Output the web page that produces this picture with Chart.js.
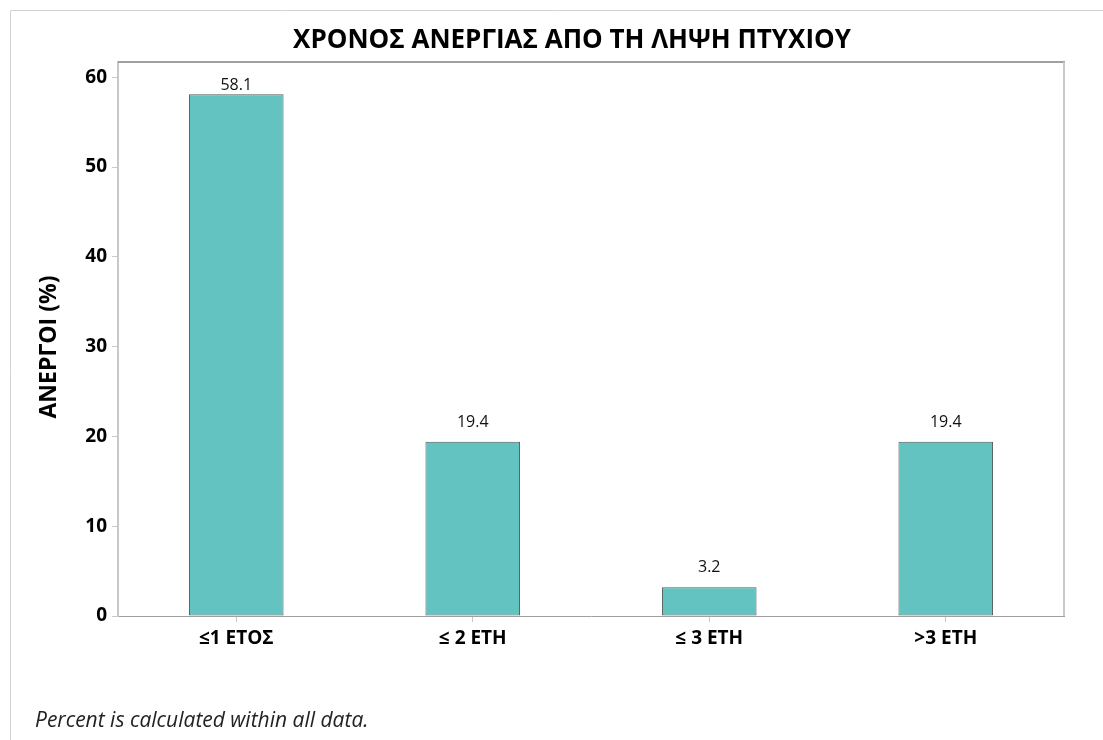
<!DOCTYPE html>
<html>
<head>
<meta charset="utf-8">
<script src="https://cdn.jsdelivr.net/npm/chart.js@4"></script>
<style>
  html, body { margin: 0; padding: 0; background: #fff; }
  #wrap { width: 1103px; height: 740px; position: relative; }
</style>
</head>
<body>
<div id="wrap"><canvas id="chart"></canvas></div>
<script>
const categories = ['≤1 ΕΤΟΣ', '≤ 2 ΕΤΗ', '≤ 3 ΕΤΗ', '>3 ΕΤΗ']
const percents = [58.1, 19.4, 3.2, 19.4]
const yTicks = [0, 10, 20, 30, 40, 50, 60]

const titleText = 'ΧΡΟΝΟΣ ΑΝΕΡΓΙΑΣ ΑΠΟ ΤΗ ΛΗΨΗ ΠΤΥΧΙΟΥ'
const axisTitle = 'ΑΝΕΡΓΟΙ (%)'
const footnote = 'Percent is calculated within all data.'

const FONT = "'Open Sans', 'Noto Sans', sans-serif"

// frame, titles, value labels, footnote
const decorations = {
  id: 'decorations',
  beforeDraw (chart) {
    const { ctx } = chart
    ctx.save()
    // outer graph border
    ctx.strokeStyle = '#d2d2d2'
    ctx.lineWidth = 1
    ctx.beginPath()
    ctx.moveTo(10.5, 740)
    ctx.lineTo(10.5, 10.5)
    ctx.lineTo(1103, 10.5)
    ctx.stroke()
    ctx.restore()
  },
  afterDraw (chart) {
    const { ctx, chartArea: a } = chart
    ctx.save()
    // top / right of data region
    ctx.lineWidth = 2
    ctx.strokeStyle = '#a0a0a0'
    ctx.beginPath()
    ctx.moveTo(a.left, a.top)
    ctx.lineTo(a.right + 1, a.top)
    ctx.stroke()
    ctx.strokeStyle = '#c8c8c8'
    ctx.beginPath()
    ctx.moveTo(a.right, a.top)
    ctx.lineTo(a.right, a.bottom)
    ctx.stroke()

    // title
    ctx.fillStyle = '#000'
    ctx.font = `bold 26px ${FONT}`
    ctx.textAlign = 'center'
    ctx.textBaseline = 'alphabetic'
    ctx.fillText(titleText, 572, 48)

    // y axis title
    ctx.save()
    ctx.translate(56, 347)
    ctx.rotate(-Math.PI / 2)
    ctx.font = `bold 23px ${FONT}`
    ctx.fillText(axisTitle, 0, 0)
    ctx.restore()

    // value labels
    ctx.font = `16px ${FONT}`
    ctx.fillStyle = '#111'
    const meta = chart.getDatasetMeta(0)
    meta.data.forEach((bar, i) => {
      const y = Math.max(bar.y - 15, a.top + 28)
      ctx.fillText(percents[i].toFixed(1), bar.x, y)
    })

    // footnote
    ctx.font = `italic 21px ${FONT}`
    ctx.textAlign = 'left'
    ctx.fillStyle = '#222'
    ctx.fillText(footnote, 35, 727)
    ctx.restore()
  },
}

new Chart(document.getElementById('chart'), {
  type: 'bar',

  data: {
    labels: categories,
    datasets: [
      {
        data: percents,
        backgroundColor: '#63c3c1',
        borderColor: '#505c5c',
        borderWidth: 1,
        borderSkipped: false,
        categoryPercentage: 1,
        barPercentage: 0.4,
      },
    ],
  },

  plugins: [decorations],

  options: {
    responsive: true,
    maintainAspectRatio: false,
    animation: false,

    layout: {
      padding: { left: 0, top: 62, right: 39, bottom: 0 },
    },

    scales: {
      x: {
        offset: true,
        afterFit: (axis) => { axis.height = 124 },
        grid: {
          display: true,
          offset: false,
          drawOnChartArea: false,
          drawTicks: true,
          tickLength: 6,
          color: '#c8c8c8',
        },
        border: { display: true, color: '#a0a0a0', width: 1 },
        ticks: {
          color: '#000',
          padding: 5,
          maxRotation: 0,
          font: { family: FONT, size: 19, weight: 'bold' },
        },
      },
      y: {
        min: 0,
        max: 61.7,
        afterFit: (axis) => { axis.width = 118 },
        afterBuildTicks: (axis) => {
          axis.ticks = yTicks.map((value) => ({ value }))
        },
        grid: {
          display: true,
          drawOnChartArea: false,
          drawTicks: true,
          tickLength: 6,
          color: '#c8c8c8',
        },
        border: { display: true, color: '#c8c8c8', width: 2 },
        ticks: {
          color: '#000',
          padding: 5,
          font: { family: FONT, size: 19, weight: 'bold' },
        },
      },
    },

    plugins: {
      legend: { display: false },
      tooltip: { enabled: false },
    },
  },
})
</script>
</body>
</html>
